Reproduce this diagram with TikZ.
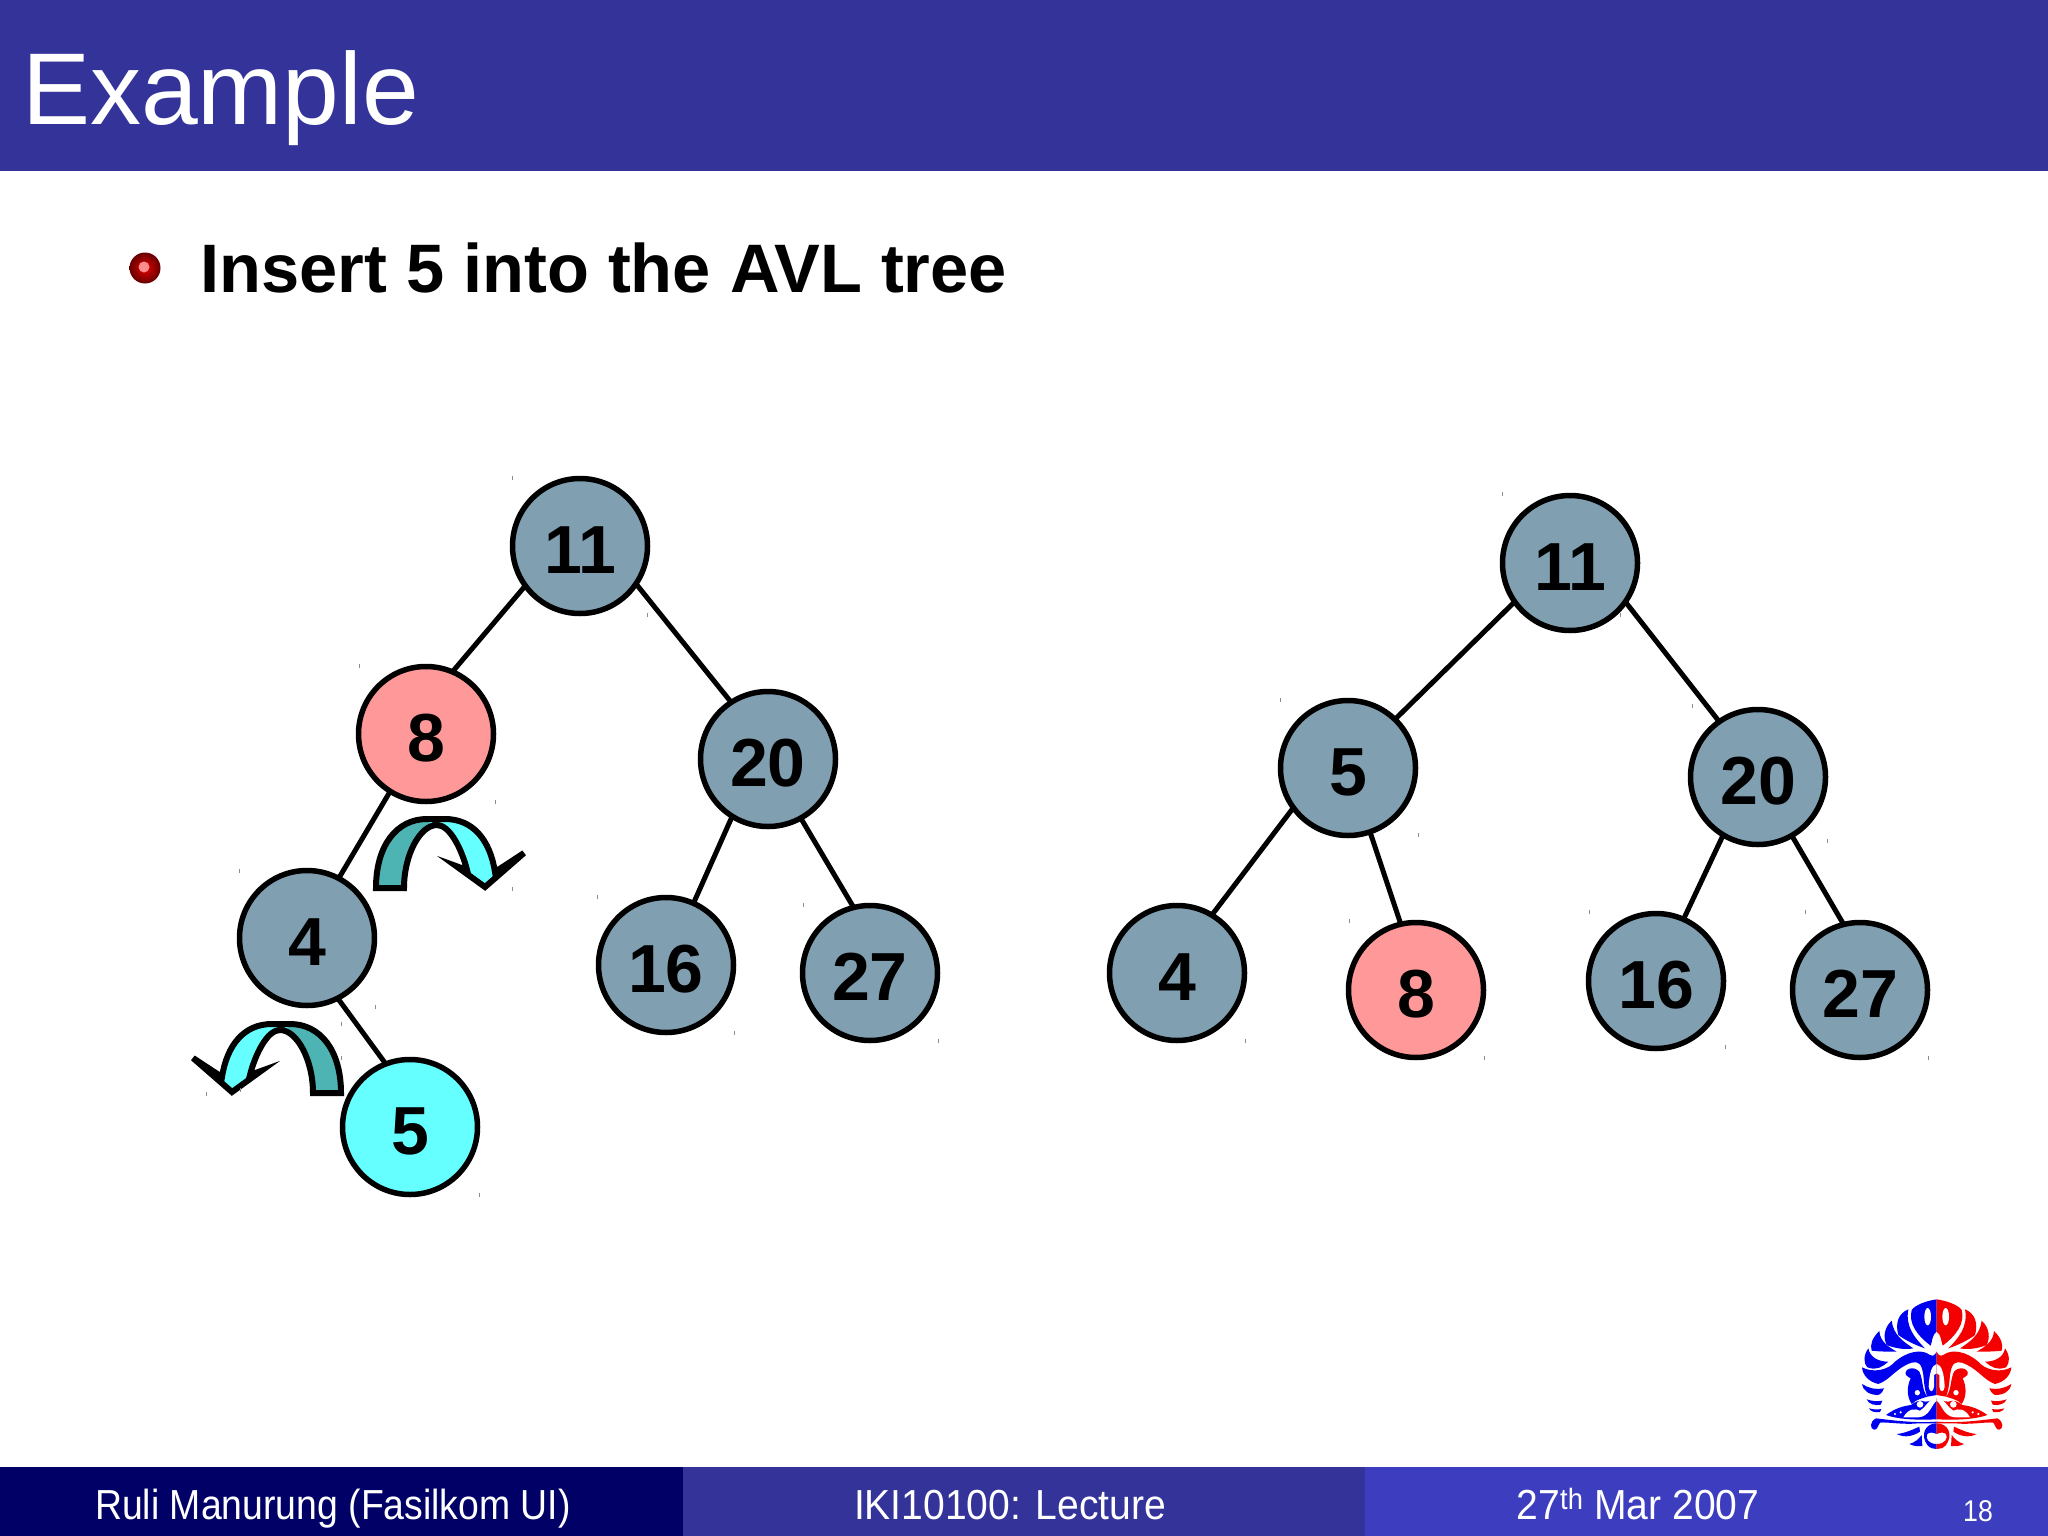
\documentclass[tikz,border=0pt]{standalone}
\usepackage{fontspec}
\setmainfont{Liberation Sans}
\newfontfamily\footfont[FakeStretch=0.89]{Liberation Sans}
\newfontfamily\footwide[FakeStretch=0.93]{Liberation Sans}
\usetikzlibrary{backgrounds}
\definecolor{barblue}{HTML}{333399}
\definecolor{footdark}{HTML}{000066}
\definecolor{footlight}{HTML}{3D3DBF}
\definecolor{nodeblue}{HTML}{80A0B2}
\definecolor{nodepink}{HTML}{FF9999}
\definecolor{nodecyan}{HTML}{66FFFF}
\definecolor{arrowteal}{HTML}{4DB3B3}
\definecolor{logoblue}{HTML}{0000F0}
\definecolor{logored}{HTML}{F50000}
\newcommand{\num}[1]{\raisebox{-4pt}[\height][0pt]{#1}}
\tikzset{
 tree/.style={circle,draw=black,line width=5.5pt,minimum size=135pt,inner sep=0pt,outer sep=0pt,font=\fontsize{68}{68}\selectfont\bfseries,text=black},
 plain/.style={tree,fill=nodeblue},
 pinky/.style={tree,fill=nodepink},
 cyany/.style={tree,fill=nodecyan},
 edge/.style={line width=5pt,black},
 foot/.style={text=white,font=\footfont\fontsize{42}{42}\selectfont,inner sep=0pt},
 footw/.style={foot,font=\footwide\fontsize{42}{42}\selectfont},
 tick/.style={draw=black!45,line width=1pt},
}
\newcommand{\rotarrow}{%
 \def\rotpath{(376,888) .. controls (376,845) and (397,819) .. (427,819) -- (445,819) .. controls (473,819) and (490,840) .. (495,872) -- (524,853) -- (485,887) -- (456,866) -- (467,870) .. controls (462,850) and (450,825) .. (437,825) .. controls (420,825) and (404,855) .. (404,888) -- cycle}%
 \fill[nodecyan] \rotpath;
 \fill[arrowteal] (376,888) .. controls (376,845) and (397,819) .. (427,819) -- (431,826) .. controls (418,832) and (404,858) .. (404,888) -- cycle;
 \draw[black,line width=6pt,miter limit=10] \rotpath;
}
\newcommand{\logohalf}[1]{%
 % crown leaves
 \fill[#1] (290,58) .. controls (260,62) and (225,75) .. (215,90) .. controls (205,130) and (230,165) .. (272,197) .. controls (278,180) and (276,165) .. (290,155) -- cycle;
 \fill[white] (263,110) ellipse (10 and 26);
 \fill[#1] (205,88) .. controls (175,100) and (165,130) .. (175,165) .. controls (195,180) and (225,195) .. (255,205) .. controls (225,175) and (195,140) .. (205,88) -- cycle;
 \fill[#1] (155,122) .. controls (130,145) and (130,175) .. (140,195) .. controls (165,205) and (195,210) .. (220,205) .. controls (190,185) and (160,165) .. (155,122) -- cycle;
 \fill[#1] (118,153) .. controls (95,175) and (90,195) .. (95,212) .. controls (120,215) and (145,215) .. (170,215) .. controls (145,200) and (120,185) .. (118,153) -- cycle;
 \fill[#1] (85,205) .. controls (70,225) and (70,250) .. (82,262) .. controls (110,272) and (125,262) .. (145,245) .. controls (120,245) and (90,235) .. (85,205) -- cycle;
 % band and stem
 \fill[#1] (66,262) .. controls (68,285) and (85,305) .. (115,312) .. controls (150,300) and (170,262) .. (215,248) .. controls (235,243) and (245,250) .. (250,285) .. controls (252,310) and (255,335) .. (262,350) -- (290,345) -- (290,215) .. controls (285,225) and (280,230) .. (270,225) .. controls (245,205) and (200,215) .. (165,245) .. controls (145,270) and (100,280) .. (66,262) -- cycle;
 % curl
 \fill[#1] (198,285) .. controls (190,268) and (220,255) .. (238,275) .. controls (250,300) and (245,330) .. (262,350) -- (240,357) .. controls (230,360) and (222,365) .. (215,372) .. controls (200,350) and (200,320) .. (212,295) .. controls (210,290) and (200,292) .. (198,285) -- cycle;
 \fill[white] (232,338) circle (8);
 % nose
 \fill[white] (290,252) .. controls (275,255) and (268,280) .. (266,320) .. controls (268,338) and (280,338) .. (282,320) -- (282,285) -- (290,280) -- cycle;
 % small leaves
 \fill[#1] (66,312) .. controls (70,335) and (90,345) .. (115,345) .. controls (125,340) and (130,332) .. (132,325) .. controls (110,330) and (85,325) .. (66,312) -- cycle;
 \fill[#1] (80,358) .. controls (85,372) and (105,378) .. (122,374) -- (127,362) .. controls (110,365) and (95,363) .. (80,358) -- cycle;
 \fill[#1] (87,385) .. controls (92,396) and (108,398) .. (120,396) -- (124,387) .. controls (110,390) and (100,388) .. (87,385) -- cycle;
 % boat
 \fill[#1] (138,405) .. controls (165,385) and (190,378) .. (213,375) .. controls (225,365) and (240,358) .. (255,365) .. controls (270,365) and (280,358) .. (290,355) -- (290,418) .. controls (240,420) and (180,420) .. (138,405) -- cycle;
 \fill[white] (190,412) .. controls (205,385) and (225,385) .. (240,392) .. controls (255,385) and (265,358) .. (290,350) -- (290,362) .. controls (275,372) and (270,410) .. (235,412) -- cycle;
 \fill[white] (240,373) circle (10);
 \fill[white] (165,402) circle (3.5);
 \fill[white] (182,397) circle (3.5);
 % base
 \fill[#1] (108,415) .. controls (150,420) and (220,430) .. (290,425) -- (290,430) -- (235,430) .. controls (190,435) and (140,425) .. (120,428) .. controls (112,440) and (112,450) .. (102,449) .. controls (90,447) and (88,425) .. (108,415) -- cycle;
 \fill[#1] (170,462) .. controls (195,460) and (220,448) .. (238,440) -- (240,455) .. controls (220,468) and (195,475) .. (170,462) -- cycle;
 \fill[#1] (208,492) .. controls (225,488) and (238,475) .. (245,465) -- (247,498) .. controls (232,500) and (220,498) .. (208,492) -- cycle;
 \fill[#1] (290,430) .. controls (255,430) and (240,465) .. (262,495) .. controls (270,505) and (280,507) .. (290,507) -- (290,492) .. controls (265,492) and (255,475) .. (262,462) .. controls (270,455) and (280,458) .. (290,462) -- cycle;
}
\begin{document}
\begin{tikzpicture}[x=1pt,y=-1pt]
\useasboundingbox (0,0) rectangle (2048,1536);
% header
\fill[barblue] (0,0) rectangle (2048,171);
\node[anchor=base west,inner sep=0pt,text=white,font=\fontsize{102}{102}\selectfont] (title) at (22,124.5) {Example};
% bullet
\shade[inner color=red!90!black,outer color=red!40!black] (145,268) circle (15.5pt);
\fill[red!45!white] (144,267) circle (5.5pt);
\node[anchor=base west,inner sep=0pt,font=\fontsize{68.6}{68.6}\selectfont\bfseries] (head) at (200,292) {Insert 5 into the AVL tree};
% rotation arrows
\rotarrow
\begin{scope}[shift={(717,205)},xscale=-1]
\rotarrow
\end{scope}
% left tree
\node[plain] (a11) at (580,546) {\num{11}};
\node[pinky] (a8) at (426,734) {\num{8}};
\node[plain] (a20) at (768,759) {\num{20}};
\node[plain] (a4) at (307,938) {\num{4}};
\node[plain] (a16) at (666,965) {\num{16}};
\node[plain] (a27) at (870,973) {\num{27}};
\node[cyany] (a5) at (410,1127) {\num{5}};
% right tree
\node[plain] (b11) at (1570,563) {\num{11}};
\node[plain] (b5) at (1348,768) {\num{5}};
\node[plain] (b20) at (1758,777) {\num{20}};
\node[plain] (b4) at (1177,973) {\num{4}};
\node[pinky] (b8) at (1416,990) {\num{8}};
\node[plain] (b16) at (1656,981) {\num{16}};
\node[plain] (b27) at (1860,990) {\num{27}};
\begin{scope}[on background layer]
\fill[white] (0,0) rectangle (2048,1536);
\draw[edge] (a11.216) -- (a8.67);
\draw[edge] (a11.-34) -- (a20.123);
\draw[edge] (a8.238) -- (a4.62);
\draw[edge] (a4.-63) -- (a5.111);
\draw[edge] (a20.238) -- (a16.66);
\draw[edge] (a20.-61) -- (a27.104);
\draw[edge] (b11.215) -- (b5.46);
\draw[edge] (b11.-35) -- (b20.125);
\draw[edge] (b5.216) -- (b4.59);
\draw[edge] (b5.-71) -- (b8.103);
\draw[edge] (b20.239) -- (b16.66);
\draw[edge] (b20.-60) -- (b27.104);
\end{scope}
% small ticks
\foreach \x/\y in {512/478,359/666,495/802,239/871,512/889,240/1090,479/1195,206/1094,375/1007,341/1024,341/1058,647/615,1502/494,1280/700,1418/835,1692/706,1827/841,1589/912,1805/912,1245/1041,1349/921,1484/1058,1725/1047,1928/1058,597/897,734/1033,803/905,938/1041,1620/615}
 \draw[tick] (\x,\y-2) -- (\x,\y+2);
% logo
\begin{scope}[shift={(1840,1280)},x=0.3333pt,y=-0.3333pt]
\logohalf{logoblue}
\end{scope}
\begin{scope}[shift={(2033.33,1280)},x=-0.3333pt,y=-0.3333pt]
\logohalf{logored}
\end{scope}
% footer
\fill[footdark] (0,1467) rectangle (683,1536);
\fill[barblue] (683,1467) rectangle (1365,1536);
\fill[footlight] (1365,1467) rectangle (2048,1536);
\node[foot,anchor=base west] (f1) at (95,1519) {Ruli Manurung (Fasilkom UI)};
\node[footw,anchor=base] (f2) at (1010,1519) {IKI10100: Lecture};
\node[footw,anchor=base] (f3) at (1638,1519) {27\textsuperscript{th} Mar 2007};
\node[foot,anchor=base,font=\footfont\fontsize{30}{30}\selectfont] (f4) at (1978,1521) {18};
\end{tikzpicture}
\end{document}
